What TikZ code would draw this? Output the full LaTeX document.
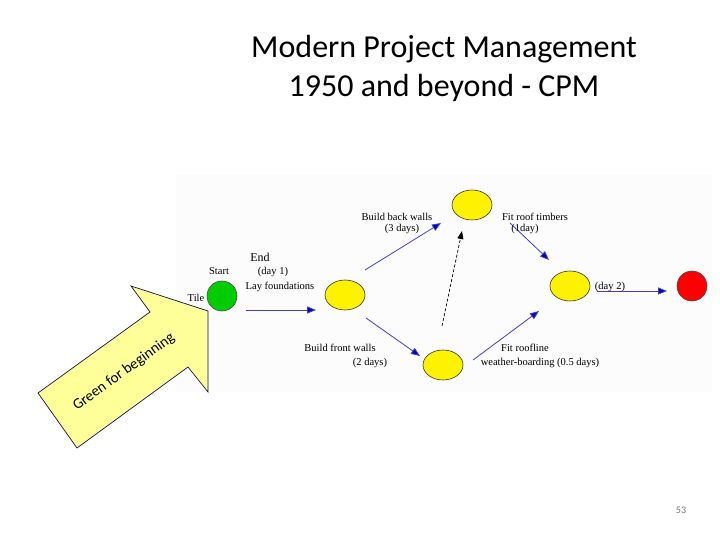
\documentclass[tikz,border=0pt]{standalone}
\usepackage{fontspec}
\setmainfont{Liberation Serif}
\newfontfamily\calfont{Carlito}
\usetikzlibrary{arrows.meta, positioning, shapes.geometric}

\definecolor{lineblue}{HTML}{4040C0}
\definecolor{tipblue}{HTML}{0000CC}
\definecolor{paleyellow}{HTML}{FFFF99}
\definecolor{navy}{HTML}{10104A}

\begin{document}
\begin{tikzpicture}[
    x=1pt, y=-1pt,
    event/.style = {ellipse, draw=black!80, line width=0.6pt, minimum width=40pt, minimum height=30pt, inner sep=0pt},
    evtcirc/.style = {circle, draw=black!70, line width=0.6pt, minimum size=30pt, inner sep=0pt},
    task/.style = {draw=lineblue, line width=0.8pt, -{Triangle[length=9pt, width=7pt, fill=tipblue]}},
    lbl/.style = {font=\fontsize{10.5}{11.5}\selectfont, inner sep=0pt, align=center}
  ]
  \useasboundingbox (0,0) rectangle (720,540);

  % title
  \node[font=\calfont\fontsize{32}{39}\selectfont, align=center] (title) at (444,68)
    {Modern Project Management\\1950 and beyond - CPM};

  % backdrop of the network picture
  \fill[black!1] (176,175) rectangle (712,392);

  % big pointer arrow
  \draw[navy, line width=0.7pt, fill=paleyellow]
    (38,393) -- (150,312) -- (131,286) -- (208,311) -- (208,392) -- (188,367) -- (77,448) -- cycle;
  \node[font=\calfont\fontsize{15}{17}\selectfont, rotate=36] (green) at (124,372) {Green for beginning};

  % events
  \node[evtcirc, fill={rgb,255:red,0;green,204;blue,0}] (start) at (222,296) {};
  \node[event, fill=yellow] (found) at (345,295) {};
  \node[event, fill=yellow] (back)  at (472,205) {};
  \node[event, fill=yellow] (front) at (443,365) {};
  \node[event, fill=yellow] (roof)  at (570,286) {};
  \node[evtcirc, fill=red] (finish) at (692,286) {};

  % arrow ends
  \coordinate (lf-s) at (246,310);  \coordinate (lf-e) at (316,310);
  \coordinate (bb-s) at (365,270);  \coordinate (bb-e) at (441,223);
  \coordinate (bf-s) at (366,318);  \coordinate (bf-e) at (420,356);
  \coordinate (rl-s) at (473,360);  \coordinate (rl-e) at (539,311);
  \coordinate (rt-s) at (510,223);  \coordinate (rt-e) at (549,260);
  \coordinate (d2-s) at (597,291);  \coordinate (d2-e) at (667,291);
  \coordinate (dm-s) at (442,326);  \coordinate (dm-e) at (462,231);

  \draw[task] (lf-s) -- (lf-e);
  \draw[task] (bb-s) -- (bb-e);
  \draw[task] (bf-s) -- (bf-e);
  \draw[task] (rl-s) -- (rl-e);
  \draw[task] (rt-s) -- (rt-e);
  \draw[task] (d2-s) -- (d2-e);
  \draw[densely dashed, line width=0.7pt, -{Triangle[length=8pt, width=6pt]}] (dm-s) -- (dm-e);

  % labels
  \node[lbl] (l-tile)  at (196,298) {Tile};
  \node[lbl] (l-start) at (219,271) {Start};
  \node[lbl, font=\fontsize{12}{13}\selectfont] (l-end) at (260,257) {End};
  \node[lbl] (l-day1)  at (273,272) {(day 1)};
  \node[lbl] (l-lay)   at (280,287) {Lay foundations};
  \node[lbl] (l-back)  at (397,217) {Build back walls};
  \node[lbl] (l-back2) at (402,229) {(3 days)};
  \node[lbl] (l-tim)   at (535,217) {Fit roof timbers};
  \node[lbl] (l-tim2)  at (525,229) {(1day)};
  \node[lbl] (l-front) at (340,348) {Build front walls};
  \node[lbl] (l-frnt2) at (370,363) {(2 days)};
  \node[lbl] (l-rl)    at (525,348) {Fit roofline};
  \node[lbl] (l-rl2)   at (540,363) {weather-boarding (0.5 days)};
  \node[lbl] (l-day2)  at (610,287) {(day 2)};

  % page number
  \node[font=\calfont\fontsize{10}{12}\selectfont, text=black!55] (page) at (681,510) {53};
\end{tikzpicture}
\end{document}
